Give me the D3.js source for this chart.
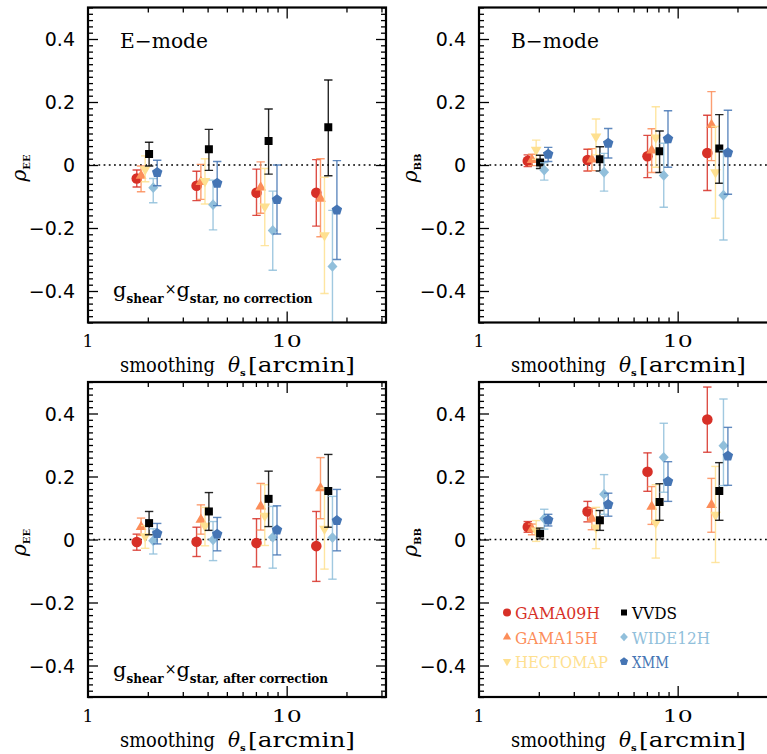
<!DOCTYPE html>
<html><head><meta charset="utf-8">
<script src="https://cdn.jsdelivr.net/npm/d3@7"></script>
<style>body{margin:0;background:#fff}</style>
</head><body>
<svg id="c" width="767" height="754"></svg>
<script>
// ---------------- data ----------------
const categories = ["GAMA09H","GAMA15H","HECTOMAP","VVDS","WIDE12H","XMM"];
const seriesColors = ["#d73027","#fc8d59","#fee090","#000000","#91bfdb","#4575b4"];
// smoothing scale (arcmin) at which each field is plotted (small horizontal offsets per field)
const thetaGAMA09H  = [1.76, 3.52, 7.05, 14.1];
const thetaGAMA15H  = [1.85, 3.70, 7.40, 14.8];
const thetaHECTOMAP = [1.94, 3.88, 7.76, 15.5];
const thetaVVDS     = [2.03, 4.06, 8.11, 16.2];
const thetaWIDE12H  = [2.13, 4.26, 8.51, 17.0];
const thetaXMM      = [2.23, 4.47, 8.94, 17.9];
const thetas = [thetaGAMA09H, thetaGAMA15H, thetaHECTOMAP, thetaVVDS, thetaWIDE12H, thetaXMM];

// E-mode, no correction : rows follow categories
const eeNoCorrVal = [[-0.043,-0.066,-0.088,-0.088],[-0.034,-0.054,-0.071,-0.107],[-0.014,-0.051,-0.132,-0.223],
                     [0.035,0.050,0.076,0.120],[-0.072,-0.126,-0.208,-0.322],[-0.024,-0.058,-0.110,-0.143]];
const eeNoCorrLo  = [[-0.070,-0.113,-0.160,-0.194],[-0.085,-0.109,-0.153,-0.228],[-0.053,-0.124,-0.256,-0.408],
                     [-0.003,-0.017,-0.029,-0.034],[-0.120,-0.206,-0.334,-0.520],[-0.066,-0.129,-0.219,-0.300]];
const eeNoCorrHi  = [[-0.016,-0.020,-0.013,0.017],[-0.003,0.002,0.010,0.020],[0.029,0.020,-0.011,-0.039],
                     [0.072,0.113,0.178,0.270],[-0.043,-0.048,-0.083,-0.144],[0.015,0.011,0.000,0.014]];
// B-mode, no correction
const bbNoCorrVal = [[0.013,0.016,0.028,0.038],[0.016,0.018,0.046,0.127],[0.048,0.090,0.087,-0.023],
                     [0.008,0.018,0.044,0.052],[-0.016,-0.023,-0.033,-0.096],[0.034,0.069,0.083,0.039]];
const bbNoCorrLo  = [[-0.005,-0.019,-0.040,-0.081],[-0.002,-0.018,-0.024,0.014],[0.018,0.032,-0.007,-0.169],
                     [-0.011,-0.019,-0.024,-0.058],[-0.048,-0.083,-0.134,-0.238],[0.011,0.022,-0.007,-0.093]];
const bbNoCorrHi  = [[0.032,0.050,0.094,0.158],[0.034,0.052,0.115,0.233],[0.079,0.146,0.185,0.122],
                     [0.031,0.058,0.108,0.160],[0.007,0.037,0.069,0.046],[0.056,0.116,0.172,0.174]];
// E-mode, after correction
const eeCorrVal = [[-0.008,-0.007,-0.011,-0.021],[0.040,0.063,0.105,0.163],[0.010,0.043,0.075,0.034],
                   [0.052,0.089,0.129,0.154],[-0.004,-0.001,0.007,0.006],[0.019,0.017,0.030,0.060]];
const eeCorrLo  = [[-0.034,-0.054,-0.087,-0.133],[0.013,0.017,0.030,0.066],[-0.028,-0.020,-0.019,-0.094],
                   [0.015,0.029,0.041,0.039],[-0.046,-0.067,-0.091,-0.126],[-0.014,-0.036,-0.049,-0.036]];
const eeCorrHi  = [[0.017,0.039,0.066,0.089],[0.068,0.110,0.178,0.260],[0.044,0.102,0.174,0.163],
                   [0.089,0.149,0.217,0.270],[0.034,0.057,0.105,0.137],[0.051,0.070,0.107,0.159]];
// B-mode, after correction
const bbCorrVal = [[0.040,0.089,0.215,0.381],[0.033,0.066,0.104,0.110],[0.028,0.038,0.053,0.078],
                   [0.019,0.061,0.119,0.154],[0.066,0.144,0.261,0.298],[0.062,0.111,0.184,0.265]];
const bbCorrLo  = [[0.023,0.056,0.153,0.277],[0.015,0.031,0.048,0.023],[-0.006,-0.029,-0.059,-0.073],
                   [0.002,0.029,0.061,0.061],[0.033,0.080,0.150,0.171],[0.043,0.074,0.121,0.172]];
const bbCorrHi  = [[0.057,0.121,0.275,0.484],[0.049,0.099,0.168,0.194],[0.060,0.102,0.174,0.232],
                   [0.036,0.092,0.177,0.244],[0.096,0.206,0.369,0.446],[0.080,0.147,0.247,0.356]];

const yTickValues = [0.4, 0.2, 0, -0.2, -0.4];
const yTickLabels = ["0.4", "0.2", "0", "\u22120.2", "\u22120.4"];
const xTickValues = [1, 10];
const xTickLabels = ["1", "10"];

// ---------------- drawing ----------------
const svg = d3.select("#c");
const W = 298, H = 315;
const SERIF = "'DejaVu Serif', serif";
const SANS = "'DejaVu Sans', sans-serif";

const pentagon = { draw(ctx, size) {
  const r = Math.sqrt(size / (2.5 * Math.sin(2 * Math.PI / 5)));
  for (let i = 0; i < 5; i++) {
    const a = -Math.PI / 2 + i * 2 * Math.PI / 5;
    const px = r * Math.cos(a), py = r * Math.sin(a);
    if (i === 0) ctx.moveTo(px, py); else ctx.lineTo(px, py);
  }
  ctx.closePath();
}};
const diamond = { draw(ctx, size) {
  const r = Math.sqrt(size / 2);
  ctx.moveTo(0, -r * 1.08); ctx.lineTo(r, 0); ctx.lineTo(0, r * 1.08); ctx.lineTo(-r, 0); ctx.closePath();
}};
const symTypes = [d3.symbolCircle, d3.symbolTriangle, d3.symbolTriangle, d3.symbolSquare, diamond, pentagon];
const symSizes = [88, 50, 50, 64, 50, 72];
const symRot = [0, 0, 180, 0, 0, 0];

const panels = [
  {x0: 88,  y0: 7.5, val: eeNoCorrVal, lo: eeNoCorrLo, hi: eeNoCorrHi, sub: "EE", title: "E\u2212mode", note: "no correction", noteGY: 297},
  {x0: 479, y0: 7.5, val: bbNoCorrVal, lo: bbNoCorrLo, hi: bbNoCorrHi, sub: "BB", title: "B\u2212mode"},
  {x0: 88,  y0: 382, val: eeCorrVal, lo: eeCorrLo, hi: eeCorrHi, sub: "EE", note: "after correction", noteGY: 677},
  {x0: 479, y0: 382, val: bbCorrVal, lo: bbCorrLo, hi: bbCorrHi, sub: "BB", legend: true}
];

panels.forEach((p, pi) => {
  const x = d3.scaleLog().domain([1, Math.pow(10, 1.5)]).range([p.x0, p.x0 + W]);
  const y = d3.scaleLinear().domain([-0.5, 0.5]).range([p.y0 + H, p.y0]);
  const g = svg.append("g");
  const cid = "clip" + pi;
  svg.append("clipPath").attr("id", cid).append("rect")
    .attr("x", p.x0).attr("y", p.y0).attr("width", W).attr("height", H);

  // ticks (inward) via d3 axes
  const xMinor = [2,3,4,5,6,7,8,9,20,30];
  const yMinor = d3.range(-0.5, 0.5001, 0.02).map(v => +v.toFixed(2)).filter(v => Math.abs(Math.round(v * 5) - v * 5) > 1e-6);
  const yMajor = [-0.4, -0.2, 0, 0.2, 0.4];
  const addAxis = (axis, tx, ty) => {
    const a = g.append("g").attr("transform", `translate(${tx},${ty})`).call(axis);
    a.select(".domain").remove();
    a.selectAll("line").attr("stroke", "#000").attr("stroke-width", 1.3);
    a.selectAll("text").remove();
  };
  addAxis(d3.axisBottom(x).tickValues(xMinor).tickSize(-5).tickFormat(""), 0, p.y0 + H);
  addAxis(d3.axisBottom(x).tickValues([10]).tickSize(-11).tickFormat(""), 0, p.y0 + H);
  addAxis(d3.axisTop(x).tickValues(xMinor).tickSize(-5).tickFormat(""), 0, p.y0);
  addAxis(d3.axisTop(x).tickValues([10]).tickSize(-11).tickFormat(""), 0, p.y0);
  addAxis(d3.axisLeft(y).tickValues(yMinor).tickSize(-5).tickFormat(""), p.x0, 0);
  addAxis(d3.axisLeft(y).tickValues(yMajor).tickSize(-10).tickFormat(""), p.x0, 0);
  addAxis(d3.axisRight(y).tickValues(yMinor).tickSize(-5).tickFormat(""), p.x0 + W, 0);
  addAxis(d3.axisRight(y).tickValues(yMajor).tickSize(-10).tickFormat(""), p.x0 + W, 0);

  // zero line
  g.append("line").attr("x1", p.x0).attr("x2", p.x0 + W).attr("y1", y(0)).attr("y2", y(0))
    .attr("stroke", "#000").attr("stroke-width", 1.6).attr("stroke-dasharray", "1.8,3.4");

  // data
  const dg = g.append("g").attr("clip-path", `url(#${cid})`);
  categories.forEach((cat, si) => {
    const col = seriesColors[si];
    const pts = thetas[si].map((t, k) => ({t, v: p.val[si][k], lo: p.lo[si][k], hi: p.hi[si][k]}));
    const sg = dg.append("g");
    const eb = sg.append("g").attr("stroke", col).attr("stroke-width", 1.4).attr("stroke-opacity", 0.85).attr("fill", "none");
    pts.forEach(d => {
      const cx = x(d.t);
      eb.append("line").attr("x1", cx).attr("x2", cx).attr("y1", y(d.lo)).attr("y2", y(d.hi));
      eb.append("line").attr("x1", cx - 4.2).attr("x2", cx + 4.2).attr("y1", y(d.lo)).attr("y2", y(d.lo));
      eb.append("line").attr("x1", cx - 4.2).attr("x2", cx + 4.2).attr("y1", y(d.hi)).attr("y2", y(d.hi));
    });
    sg.selectAll("path.m").data(pts).join("path").attr("class", "m")
      .attr("d", d3.symbol().type(symTypes[si]).size(symSizes[si]))
      .attr("transform", d => `translate(${x(d.t)},${y(d.v)}) rotate(${symRot[si]})`)
      .attr("fill", col);
  });

  // frame
  g.append("rect").attr("x", p.x0).attr("y", p.y0).attr("width", W).attr("height", H)
    .attr("fill", "none").attr("stroke", "#000").attr("stroke-width", 2.2);

  // y tick labels
  yTickValues.forEach((v, i) => {
    svg.append("text").attr("x", p.x0 - 13).attr("y", y(v) + 7).attr("text-anchor", "end")
      .attr("font-family", SANS).attr("font-size", 19).text(yTickLabels[i]);
  });
  // x tick labels
  xTickValues.forEach((v, i) => {
    const t = svg.append("text").attr("x", x(v)).attr("y", p.y0 + H + 24.5).attr("text-anchor", "middle")
      .attr("font-family", SERIF).attr("font-size", 17).text(xTickLabels[i]);
    if (xTickLabels[i].length > 1) t.attr("textLength", 30).attr("lengthAdjust", "spacingAndGlyphs");
  });
  // x axis label
  const by = p.y0 + H + 49.5;
  svg.append("text").attr("x", p.x0 + 32).attr("y", by).attr("font-family", SERIF).attr("font-size", 20)
    .attr("textLength", 95).attr("lengthAdjust", "spacingAndGlyphs").text("smoothing");
  svg.append("text").attr("x", p.x0 + 140).attr("y", by).attr("font-family", SERIF).attr("font-style", "italic")
    .attr("font-size", 20).text("\u03b8");
  svg.append("text").attr("x", p.x0 + 152).attr("y", by + 4).attr("font-family", SERIF).attr("font-weight", "bold")
    .attr("font-size", 10).text("s");
  svg.append("text").attr("x", p.x0 + 160).attr("y", by).attr("font-family", SERIF).attr("font-size", 20)
    .attr("textLength", 107).attr("lengthAdjust", "spacingAndGlyphs").text("[arcmin]");

  // y axis label (rotated)
  const yl = svg.append("text").attr("transform", `translate(${p.x0 - 62},${p.y0 + H / 2 + 3}) rotate(-90)`)
    .attr("text-anchor", "middle").attr("font-family", SERIF);
  yl.append("tspan").attr("font-style", "italic").attr("font-size", 20).text("\u03c1");
  yl.append("tspan").attr("font-size", 10).attr("font-weight", "bold").attr("dy", 4).text(p.sub);

  if (p.title) {
    svg.append("text").attr("x", p.x0 + 32).attr("y", p.y0 + 40.5).attr("font-family", SERIF)
      .attr("font-size", 20).attr("textLength", 88).attr("lengthAdjust", "spacingAndGlyphs").text(p.title);
  }
  if (p.note) {
    const nt = svg.append("text").attr("x", p.x0 + 25).attr("y", p.noteGY).attr("font-family", SERIF);
    nt.append("tspan").attr("font-size", 21).text("g");
    nt.append("tspan").attr("font-size", 12).attr("font-weight", "bold").attr("dy", 6)
      .attr("letter-spacing", 0).text("shear");
    nt.append("tspan").attr("font-size", 14).attr("dy", -9).attr("dx", 1).text("\u00d7");
    nt.append("tspan").attr("font-size", 21).attr("dy", 3).text("g");
    nt.append("tspan").attr("font-size", 12).attr("font-weight", "bold").attr("dy", 6)
      .attr("letter-spacing", -0.1).text("star, " + p.note);
  }

  if (p.legend) {
    const lw = [85, 83, 93, 45, 78, 37];
    const legSizes = [50, 30, 30, 36, 30, 44];
    categories.forEach((cat, si) => {
      const col = si < 3 ? 0 : 1, row = si % 3;
      const sx = p.x0 + (col === 0 ? 28 : 145);
      const sy = p.y0 + 230.5 + row * 24.5;
      svg.append("path").attr("d", d3.symbol().type(symTypes[si]).size(legSizes[si])())
        .attr("transform", `translate(${sx},${sy}) rotate(${symRot[si]})`).attr("fill", seriesColors[si]);
      svg.append("text").attr("x", sx + 8).attr("y", sy + 6.5).attr("font-family", SERIF).attr("font-size", 17)
        .attr("fill", seriesColors[si]).attr("textLength", lw[si]).attr("lengthAdjust", "spacingAndGlyphs").text(cat);
    });
  }
});
</script>
</body></html>
